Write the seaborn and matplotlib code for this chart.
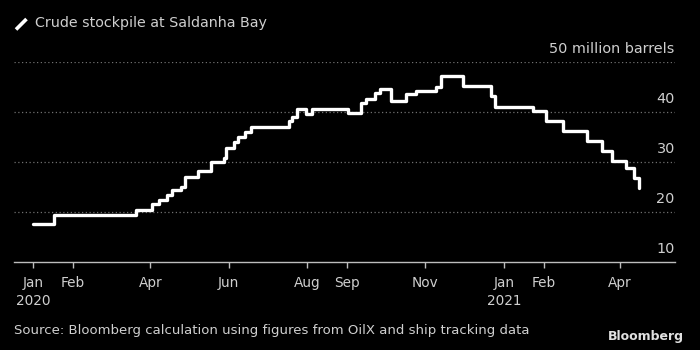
import matplotlib
matplotlib.use("Agg")
import matplotlib.pyplot as plt
import matplotlib.transforms as mtransforms
from matplotlib.lines import Line2D
import seaborn as sns
import pandas as pd

# ---- data ----
step_dates = ["2020-01-01", "2020-01-17", "2020-03-21", "2020-04-02", "2020-04-08",
              "2020-04-14", "2020-04-18", "2020-04-25", "2020-04-28", "2020-05-08",
              "2020-05-18", "2020-05-28", "2020-05-30", "2020-06-05", "2020-06-08",
              "2020-06-14", "2020-06-18", "2020-07-18", "2020-07-20", "2020-07-24",
              "2020-07-31", "2020-08-05", "2020-09-02", "2020-09-12", "2020-09-16",
              "2020-09-23", "2020-09-27", "2020-10-05", "2020-10-17", "2020-10-25",
              "2020-11-09", "2020-11-13", "2020-11-30", "2020-12-22", "2020-12-25",
              "2021-01-24", "2021-02-03", "2021-02-16", "2021-03-07", "2021-03-18",
              "2021-03-26", "2021-04-06", "2021-04-12", "2021-04-16"]
stockpile = [17.5, 19.4, 20.3, 21.5, 22.3,
             23.3, 24.3, 25.0, 27.0, 28.2,
             30.0, 30.9, 32.9, 34.0, 35.1,
             36.0, 37.0, 38.3, 39.0, 40.7,
             39.7, 40.6, 39.9, 41.9, 42.7,
             43.8, 44.7, 42.3, 43.7, 44.2,
             45.1, 47.2, 45.3, 43.3, 41.1,
             40.3, 38.3, 36.3, 34.3, 32.3,
             30.1, 28.7, 26.7, 24.7]
y_ticks = [10, 20, 30, 40, 50]
y_tick_labels = ["10", "20", "30", "40", "50 million barrels"]
x_tick_dates = ["2020-01-01", "2020-02-01", "2020-04-01", "2020-06-01", "2020-08-01",
                "2020-09-01", "2020-11-01", "2021-01-01", "2021-02-01", "2021-04-01"]
x_tick_labels = ["Jan\n2020", "Feb", "Apr", "Jun", "Aug", "Sep", "Nov",
                 "Jan\n2021", "Feb", "Apr"]
title = "Crude stockpile at Saldanha Bay"
source = "Source: Bloomberg calculation using figures from OilX and ship tracking data"

df = pd.DataFrame({"date": pd.to_datetime(step_dates), "value": stockpile})

sns.set_style("dark")
plt.rcParams["font.family"] = ["DejaVu Sans"]
txt = "#cfcfcf"

fig = plt.figure(figsize=(7, 3.5), dpi=100, facecolor="black")
ax = fig.add_axes([0.02, 0.2523, 0.944, 0.5697])
ax.set_facecolor("black")

sns.lineplot(data=df, x="date", y="value", ax=ax, color="white", linewidth=2.4,
             drawstyle="steps-post", estimator=None)

ax.set_xlim(pd.Timestamp("2019-12-17"), pd.Timestamp("2021-05-14"))
ax.set_ylim(10, 50)
ax.set_xlabel("")
ax.set_ylabel("")

for s in ["top", "right", "left"]:
    ax.spines[s].set_visible(False)
ax.spines["bottom"].set_visible(True)
ax.spines["bottom"].set_color("#bdbdbd")
ax.spines["bottom"].set_linewidth(1.0)

ax.grid(False)
for v in y_ticks[1:]:
    ax.axhline(v, color="#707070", linewidth=0.9, linestyle=(0, (1, 2.0)), zorder=0)

ax.set_yticks([])
ax.set_xticks(pd.to_datetime(x_tick_dates))
ax.set_xticklabels(x_tick_labels, color=txt, fontsize=9.8, linespacing=1.4)
ax.tick_params(axis="x", length=4, width=1, color="#bdbdbd", pad=6, bottom=True)

trans = mtransforms.blended_transform_factory(ax.transAxes, ax.transData)
off = mtransforms.ScaledTranslation(0, 6 / 100, fig.dpi_scale_trans)
for v, lab in zip(y_ticks, y_tick_labels):
    ax.text(1.0, v, lab, transform=trans + off, ha="right", va="bottom",
            color=txt, fontsize=10.4)

fig.add_artist(Line2D([16 / 700, 26.5 / 700], [1 - 29.5 / 350, 1 - 19 / 350],
                      transform=fig.transFigure, color="white", linewidth=2.6,
                      solid_capstyle="butt"))
fig.text(0.05, 0.933, title, color=txt, fontsize=10.3, ha="left", va="center")
fig.text(0.02, 0.055, source, color=txt, fontsize=9.5, ha="left", va="center")
fig.text(0.977, 0.038, "Bloomberg", color="#e0e0e0", fontsize=9.0, fontweight="bold",
         ha="right", va="center")

fig.savefig("out.png", dpi=100, facecolor="black")
